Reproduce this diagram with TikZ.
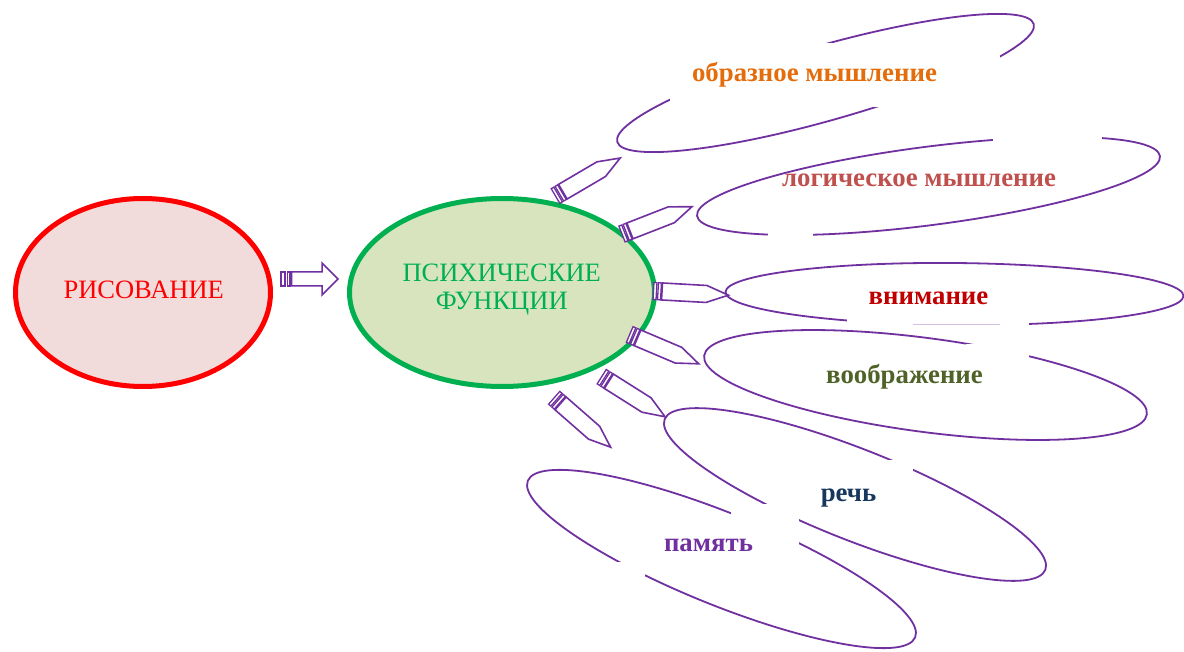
\documentclass[tikz,border=0pt]{standalone}
\usepackage{fontspec}
\setmainfont{Liberation Serif}
\usetikzlibrary{shapes.geometric,calc}
\definecolor{purp}{HTML}{7030A0}
\definecolor{risfill}{HTML}{F2DCDB}
\definecolor{psyfill}{HTML}{D7E4BD}
\definecolor{psygreen}{HTML}{00B050}
\definecolor{corange}{HTML}{E46C0A}
\definecolor{clogic}{HTML}{C0504D}
\definecolor{cattn}{HTML}{C00000}
\definecolor{cimag}{HTML}{4F6228}
\definecolor{cspeech}{HTML}{17375E}
\tikzset{
  bigell/.style={ellipse, line width=5pt, inner sep=0pt, outer sep=0pt},
  thinell/.style={ellipse, draw=purp, line width=1.8pt, inner sep=0pt, outer sep=0pt},
  mainlbl/.style={font=\fontsize{26.5}{28.5}\selectfont, inner sep=0pt, anchor=base},
  funclbl/.style={font=\fontsize{26.8}{28}\selectfont\bfseries, inner sep=0pt, anchor=base},
  mask/.style={fill=white, draw=none},
  pencil/.pic={
    \draw[purp, fill=white, line width=1.6pt, line join=miter] (8.5,-8.5) -- (53,-8.5) -- (75,0) -- (53,8.5) -- (8.5,8.5) -- cycle;
    \draw[purp, fill=white, line width=1.3pt] (0,-8.5) rectangle (3,8.5);
    \draw[purp, fill=white, line width=1.3pt] (4.5,-8.5) rectangle (7.5,8.5);
  }
}
\begin{document}
\begin{tikzpicture}[x=1pt,y=-1pt]
\useasboundingbox (0,0) rectangle (1184,652);
\fill[white] (0,0) rectangle (1184,652);

% main ellipses
\node[bigell, draw=red, fill=risfill, minimum width=255pt, minimum height=188pt] (ris) at (143,292.5) {};
\node[mainlbl, text=red] (rist) at (143.7,298.3) {РИСОВАНИЕ};
\node[bigell, draw=psygreen, fill=psyfill, minimum width=305pt, minimum height=188pt] (psy) at (502,292.5) {};
\node[mainlbl, text=psygreen, align=center] (psyt) at (501.7,310) {ПСИХИЧЕСКИЕ\\ФУНКЦИИ};

% block arrow ris -> psy
\draw[purp, fill=white, line width=1.5pt, line join=miter]
  (291.5,272) -- (322,272) -- (322,263) -- (338,279) -- (322,295) -- (322,286) -- (291.5,286) -- cycle;
\draw[purp, fill=white, line width=1.5pt] (281,272) rectangle (285,286);
\draw[purp, fill=white, line width=1.5pt] (287.5,272) rectangle (290,286);

% ellipse 1
\node[thinell, rotate=15.8, minimum width=432.8pt, minimum height=75pt] (e1) at (825.5,83) {};
\fill[mask] (670,43) rectangle (1000,107);
% ellipse 2
\node[thinell, rotate=7.35, minimum width=466.8pt, minimum height=78.4pt] (e2) at (928.5,186) {};
\fill[mask] (993,128) rectangle (1102,146);
\fill[mask] (768,226) rectangle (813,242);
% ellipse 3
\node[thinell, rotate=-0.5, minimum width=458pt, minimum height=62pt] (e3) at (954.5,294) {};
\fill[mask] (847,316) rectangle (1029,329);
\draw[purp!30, line width=1.2pt] (913,324.5) -- (1000,324.5);
% ellipse 4
\node[thinell, rotate=-7.54, minimum width=446.6pt, minimum height=93.8pt] (e4) at (925.5,385) {};
\fill[mask] (966,344) rectangle (1029,372);
% ellipse 5
\node[thinell, rotate=-21.6, minimum width=409.4pt, minimum height=90.8pt] (e5) at (855,494.5) {};
\fill[mask] (886,460) rectangle (913,486);
% ellipse 6
\node[thinell, rotate=-22, minimum width=417.8pt, minimum height=92pt] (e6) at (721.5,559) {};
\fill[mask] (731,504) rectangle (799,560);
\fill[mask] (607,562) rectangle (645,592);

% pencils
\pic[rotate=30.4] at (555.5,196) {pencil};
\pic[rotate=21.3] at (622,234) {pencil};
\pic[rotate=-3.2] at (653.5,291) {pencil};
\pic[rotate=-23] at (629.7,334.5) {pencil};
\pic[rotate=-32.3] at (601.7,376.7) {pencil};
\pic[rotate=-41.2] at (554.2,397.8) {pencil};

% labels
\node[funclbl, text=corange] (t1) at (814.5,82) {образное мышление};
\node[funclbl, text=clogic] (t2) at (919,187) {логическое мышление};
\node[funclbl, text=cattn] (t3) at (928.5,305) {внимание};
\node[funclbl, text=cimag] (t4) at (904.5,384) {воображение};
\node[funclbl, text=cspeech] (t5) at (848.5,501.7) {речь};
\node[funclbl, text=purp] (t6) at (708.5,551.7) {память};
\end{tikzpicture}
\end{document}
